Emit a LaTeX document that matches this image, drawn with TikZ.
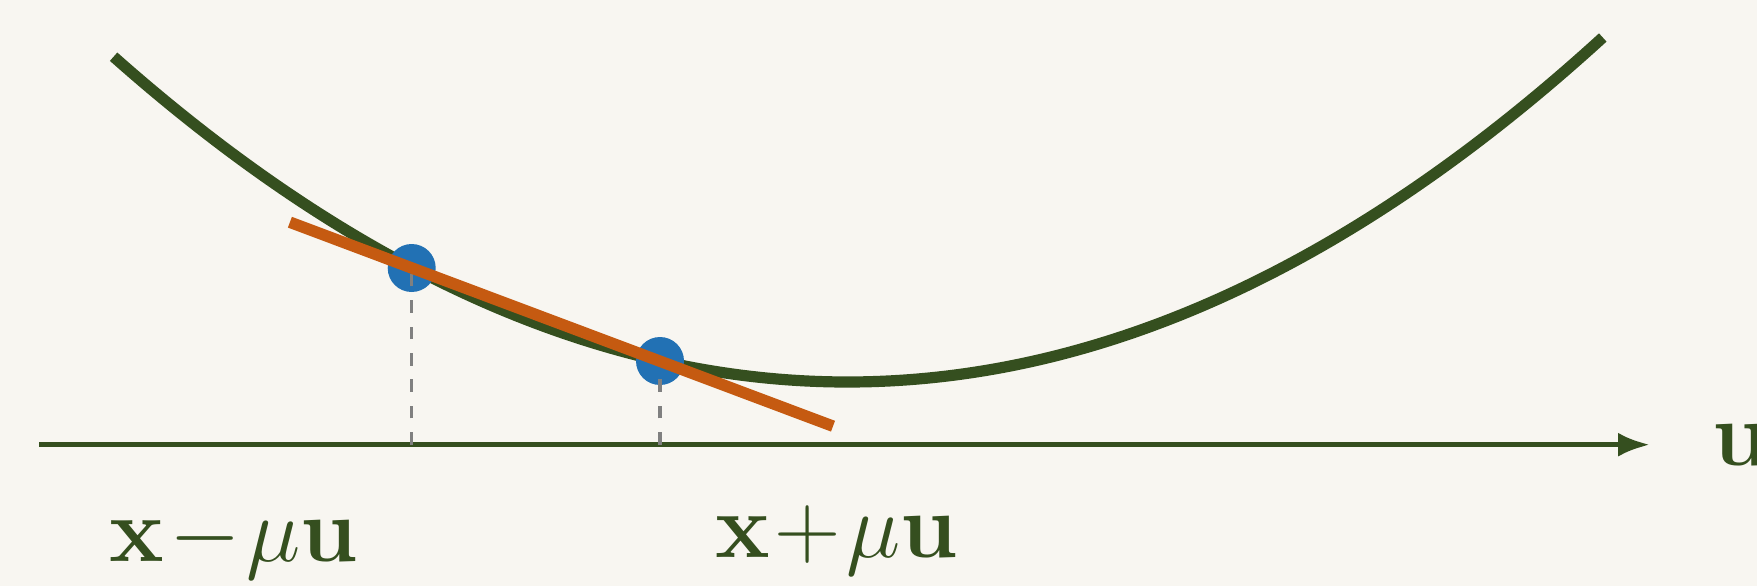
\documentclass[tikz,border=0pt]{standalone}
\usetikzlibrary{arrows.meta}
\definecolor{bgc}{RGB}{248,246,241}
\definecolor{curvegreen}{RGB}{53,79,31}
\definecolor{dotblue}{RGB}{34,113,180}
\definecolor{secorange}{RGB}{197,90,17}
\definecolor{dashgray}{RGB}{128,128,128}
\begin{document}
\begin{tikzpicture}[
  curve/.style={draw=curvegreen, line width=0.112cm},
  axisline/.style={draw=curvegreen, line width=0.052cm, -{Latex[length=0.32cm,width=0.24cm]}},
  dotnode/.style={circle, fill=dotblue, minimum size=0.48cm, inner sep=0pt},
  dropline/.style={draw=dashgray, line width=0.034cm, dash pattern=on 0.125cm off 0.139cm},
  secant/.style={draw=secorange, line width=0.115cm},
  lab/.style={text=curvegreen, inner sep=0pt, anchor=base west, font=\Huge, scale=1.052, transform shape}
]
\fill[bgc] (0,0) rectangle (17.57,-5.86);
\useasboundingbox (0,0) rectangle (17.57,-5.86);
% axis
\coordinate (a0) at (0.39,-4.447);
\coordinate (a1) at (16.50,-4.447);
\draw[axisline] (a0) -- (a1);
% curve
\draw[curve] plot[domain=1.136:16.03, samples=160] (\x, {-3.82+0.0604*(\x-8.475)^2});
% dots
\node[dotnode] (p1) at (4.117,-2.68) {};
\node[dotnode] (p2) at (6.60,-3.61) {};
% drop lines
\coordinate (f1) at (4.117,-4.447);
\coordinate (f2) at (6.60,-4.447);
\draw[dropline] (f1) -- (p1.center);
\draw[dropline] (f2) -- (p2.center);
% secant
\coordinate (s1) at (2.899,-2.222);
\coordinate (s2) at (8.33,-4.262);
\draw[secant] (s1) -- (s2);
% labels
\node[lab] (lminus) at (1.09,-5.615) {$\mathbf{x}\!-\!\mu\mathbf{u}$};
\node[lab] (lplus) at (7.145,-5.577) {$\mathbf{x}\!+\!\mu\mathbf{u}$};
\node[lab] (lu) at (17.12,-4.65) {$\mathbf{u}$};
\end{tikzpicture}
\end{document}
